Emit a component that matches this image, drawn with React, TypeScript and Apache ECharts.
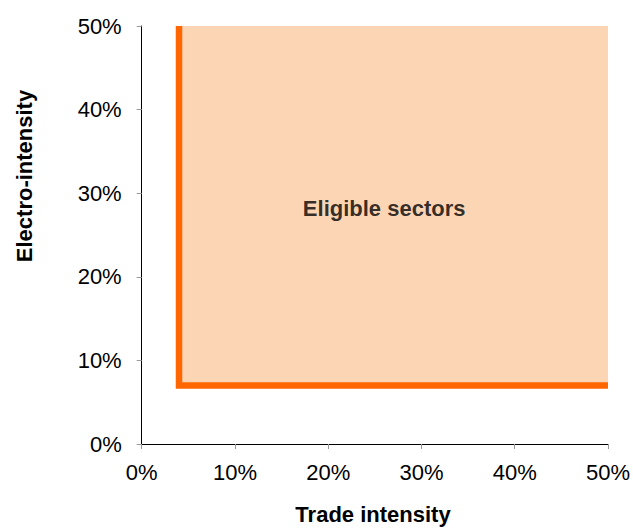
import React, { useEffect, useRef } from "react";
import * as echarts from "echarts";

const xTicks = [0, 10, 20, 30, 40, 50];
const yTicks = [0, 10, 20, 30, 40, 50];
const thresholdTrade = 4;
const thresholdElectro = 7;
const axisMax = 50;
const boundary: [number, number][] = [
  [thresholdTrade, axisMax],
  [thresholdTrade, thresholdElectro],
  [axisMax, thresholdElectro],
];
const labelPoint: [number, number] = [26, 28.2];
const regionLabel = "Eligible sectors";
const xTitle = "Trade intensity";
const yTitle = "Electro-intensity";

export default function App() {
  const ref = useRef<HTMLDivElement>(null);
  useEffect(() => {
    if (!ref.current) return;
    const chart = echarts.init(ref.current, null, { renderer: "svg" });
    const font = "'Liberation Sans', Arial, Helvetica, sans-serif";
    chart.setOption({
      animation: false,
      backgroundColor: "#ffffff",
      grid: { left: 141.7, right: 24.7, top: 26, bottom: 85, containLabel: false },
      xAxis: {
        type: "value",
        min: xTicks[0],
        max: xTicks[xTicks.length - 1],
        interval: 10,
        axisLine: { show: true, lineStyle: { color: "#000", width: 1 } },
        axisTick: { show: true, length: 5, lineStyle: { color: "#999" } },
        splitLine: { show: false },
        axisLabel: {
          formatter: "{value}%",
          color: "#000",
          fontFamily: font,
          fontSize: 22,
          margin: 17,
        },
      },
      yAxis: {
        type: "value",
        min: yTicks[0],
        max: yTicks[yTicks.length - 1],
        interval: 10,
        axisLine: { show: true, lineStyle: { color: "#000", width: 1 } },
        axisTick: { show: true, length: 5, lineStyle: { color: "#999" } },
        splitLine: { show: false },
        axisLabel: {
          formatter: "{value}%",
          color: "#000",
          fontFamily: font,
          fontSize: 22,
          margin: 20,
        },
      },
      series: [
        {
          type: "line",
          data: boundary,
          symbol: "none",
          clip: false,
          z: 5,
          lineStyle: { color: "#FF6600", width: 6.5, cap: "butt", join: "miter" },
          markArea: {
            silent: true,
            itemStyle: { color: "#FCD5B5" },
            data: [[{ coord: [thresholdTrade, thresholdElectro] }, { coord: [axisMax, axisMax] }]],
          },
        },
        {
          type: "scatter",
          data: [labelPoint],
          symbolSize: 0,
          itemStyle: { color: "#000" },
          z: 6,
          label: {
            show: true,
            position: "inside",
            formatter: regionLabel,
            color: "#000",
            textBorderWidth: 0,
            fontFamily: font,
            fontWeight: "bold",
            fontSize: 22,
          },
        },
      ],
      graphic: [
        {
          type: "text",
          x: 373,
          y: 514,
          style: {
            text: xTitle,
            fill: "#000",
            font: `bold 22px ${font}`,
            textAlign: "center",
            textVerticalAlign: "middle",
          },
        },
        {
          type: "text",
          x: 24,
          y: 176,
          rotation: Math.PI / 2,
          style: {
            text: yTitle,
            fill: "#000",
            font: `bold 22px ${font}`,
            textAlign: "center",
            textVerticalAlign: "middle",
          },
        },
      ],
    });
    return () => chart.dispose();
  }, []);
  return (
    <div
      ref={ref}
      style={{ position: "fixed", left: 0, top: 0, width: 633, height: 529 }}
    />
  );
}
